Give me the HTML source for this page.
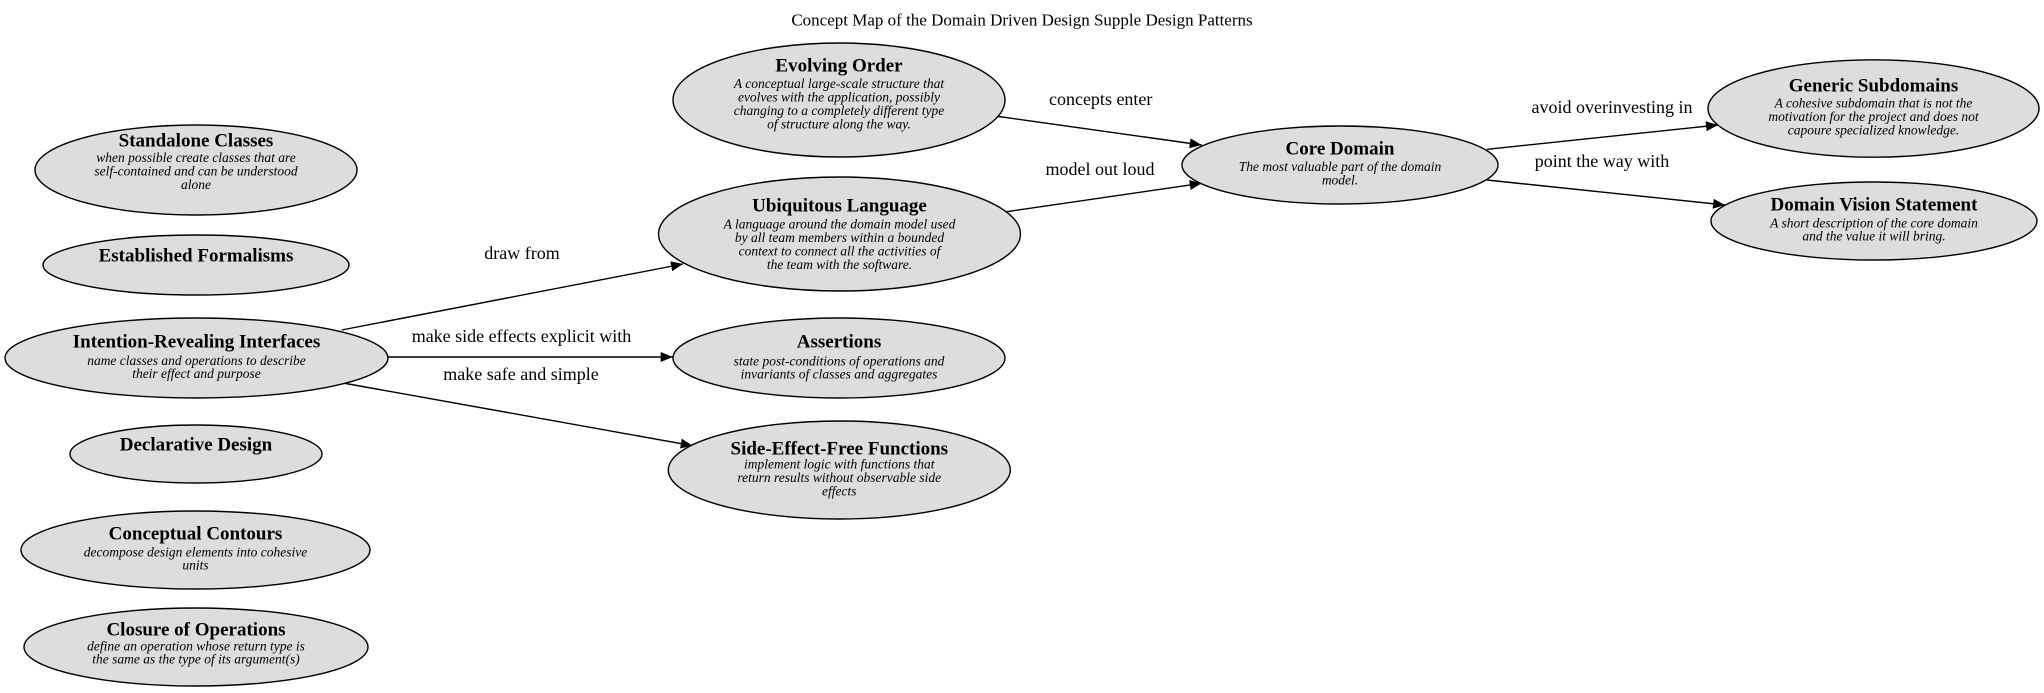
<!DOCTYPE html>
<html><head><meta charset="utf-8"><style>
html,body{margin:0;padding:0;background:#fff;}
svg{display:block;}
.t{font-family:"Liberation Serif",serif;font-weight:bold;font-size:19px;text-anchor:middle;dominant-baseline:central;fill:#000;}
.s{font-family:"Liberation Serif",serif;font-style:italic;font-size:13.5px;text-anchor:middle;dominant-baseline:central;fill:#000;}
.l{font-family:"Liberation Serif",serif;font-size:18px;text-anchor:middle;dominant-baseline:central;fill:#000;}
.h{font-family:"Liberation Serif",serif;font-size:17px;text-anchor:middle;dominant-baseline:central;fill:#000;}
ellipse{fill:#dddddd;stroke:#000;stroke-width:1.4;}
line{stroke:#000;stroke-width:1.4;}
</style></head><body>
<svg width="2044" height="693" viewBox="0 0 2044 693" xmlns="http://www.w3.org/2000/svg">
<defs><marker id="a" markerWidth="12" markerHeight="10" refX="12" refY="5" orient="auto" markerUnits="userSpaceOnUse"><path d="M0,0 L12,5 L0,10 z" fill="#000"/></marker></defs>
<text class="h" x="1022" y="20">Concept Map of the Domain Driven Design Supple Design Patterns</text>

<line x1="341.7" y1="330" x2="683" y2="264" marker-end="url(#a)"/>
<line x1="388" y1="357" x2="672.7" y2="357" marker-end="url(#a)"/>
<line x1="343" y1="383" x2="692.7" y2="445.7" marker-end="url(#a)"/>
<line x1="995" y1="116" x2="1201.7" y2="145" marker-end="url(#a)"/>
<line x1="1006.7" y1="211.7" x2="1201.7" y2="183.3" marker-end="url(#a)"/>
<line x1="1487" y1="149.3" x2="1718" y2="125" marker-end="url(#a)"/>
<line x1="1487" y1="180" x2="1725" y2="205" marker-end="url(#a)"/>

<text class="l" x="522" y="253">draw from</text>
<text class="l" x="521.5" y="336">make side effects explicit with</text>
<text class="l" x="521" y="374">make safe and simple</text>
<text class="l" x="1100.7" y="99">concepts enter</text>
<text class="l" x="1100" y="169">model out loud</text>
<text class="l" x="1612" y="107">avoid overinvesting in</text>
<text class="l" x="1602" y="161">point the way with</text>

<ellipse cx="196" cy="170" rx="161" ry="45"/>
<text class="t" x="196" y="141">Standalone Classes</text>
<text class="s" x="196" y="157.5">when possible create classes that are</text>
<text class="s" x="196" y="171">self-contained and can be understood</text>
<text class="s" x="196" y="184.5">alone</text>

<ellipse cx="196" cy="265" rx="153" ry="30"/>
<text class="t" x="196" y="256">Established Formalisms</text>

<ellipse cx="196.5" cy="358" rx="191.5" ry="40"/>
<text class="t" x="196.5" y="342">Intention-Revealing Interfaces</text>
<text class="s" x="196.5" y="360.5">name classes and operations to describe</text>
<text class="s" x="196.5" y="373.5">their effect and purpose</text>

<ellipse cx="196" cy="454" rx="126" ry="29"/>
<text class="t" x="196" y="445">Declarative Design</text>

<ellipse cx="195.5" cy="550" rx="174.5" ry="39"/>
<text class="t" x="195.5" y="534">Conceptual Contours</text>
<text class="s" x="195.5" y="552">decompose design elements into cohesive</text>
<text class="s" x="195.5" y="565">units</text>

<ellipse cx="196" cy="647" rx="172" ry="39"/>
<text class="t" x="196" y="630">Closure of Operations</text>
<text class="s" x="196" y="646">define an operation whose return type is</text>
<text class="s" x="196" y="659">the same as the type of its argument(s)</text>

<ellipse cx="839" cy="100" rx="166" ry="57"/>
<text class="t" x="839" y="66">Evolving Order</text>
<text class="s" x="839" y="83.5">A conceptual large-scale structure that</text>
<text class="s" x="839" y="97">evolves with the application, possibly</text>
<text class="s" x="839" y="110.5">changing to a completely different type</text>
<text class="s" x="839" y="124">of structure along the way.</text>

<ellipse cx="839.5" cy="234" rx="181" ry="57"/>
<text class="t" x="839.5" y="206">Ubiquitous Language</text>
<text class="s" x="839.5" y="224">A language around the domain model used</text>
<text class="s" x="839.5" y="237.5">by all team members within a bounded</text>
<text class="s" x="839.5" y="251">context to connect all the activities of</text>
<text class="s" x="839.5" y="264.5">the team with the software.</text>

<ellipse cx="839" cy="358" rx="166" ry="40"/>
<text class="t" x="839" y="342">Assertions</text>
<text class="s" x="839" y="361">state post-conditions of operations and</text>
<text class="s" x="839" y="374">invariants of classes and aggregates</text>

<ellipse cx="839.3" cy="470" rx="171" ry="49"/>
<text class="t" x="839.3" y="449">Side-Effect-Free Functions</text>
<text class="s" x="839.3" y="464">implement logic with functions that</text>
<text class="s" x="839.3" y="477.5">return results without observable side</text>
<text class="s" x="839.3" y="491">effects</text>

<ellipse cx="1340" cy="165" rx="158" ry="39"/>
<text class="t" x="1340" y="149">Core Domain</text>
<text class="s" x="1340" y="166.7">The most valuable part of the domain</text>
<text class="s" x="1340" y="180">model.</text>

<ellipse cx="1873.5" cy="108.5" rx="165.5" ry="48.7"/>
<text class="t" x="1873.5" y="86">Generic Subdomains</text>
<text class="s" x="1873.5" y="103">A cohesive subdomain that is not the</text>
<text class="s" x="1873.5" y="116.7">motivation for the project and does not</text>
<text class="s" x="1873.5" y="130">capoure specialized knowledge.</text>

<ellipse cx="1874" cy="221" rx="163" ry="39"/>
<text class="t" x="1874" y="205">Domain Vision Statement</text>
<text class="s" x="1874" y="223">A short description of the core domain</text>
<text class="s" x="1874" y="236">and the value it will bring.</text>
</svg>
</body></html>
